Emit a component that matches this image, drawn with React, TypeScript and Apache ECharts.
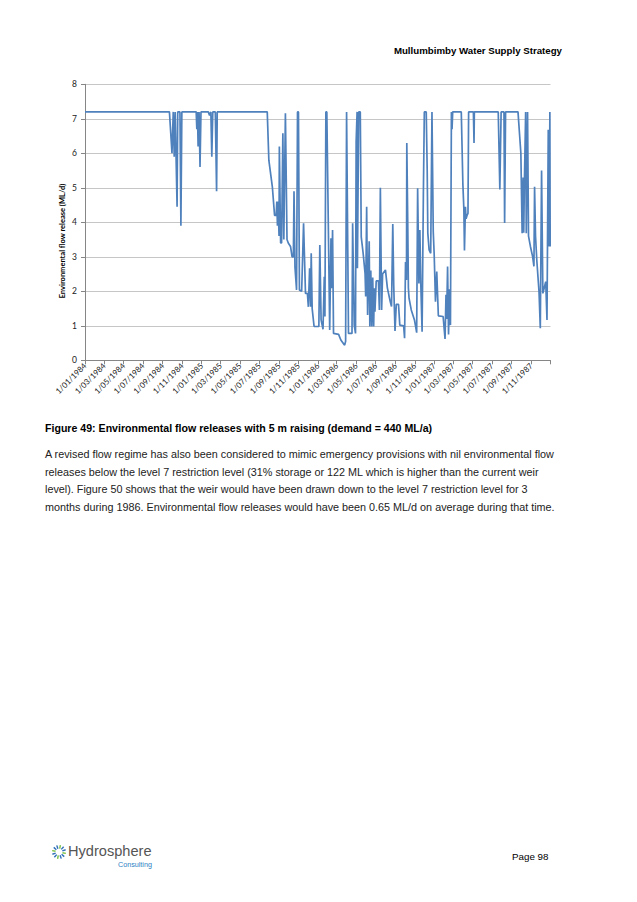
import React, { useEffect, useRef } from "react";
import * as echarts from "echarts";

const tickLabels = [
  "1/01/1984", "1/03/1984", "1/05/1984", "1/07/1984", "1/09/1984", "1/11/1984",
  "1/01/1985", "1/03/1985", "1/05/1985", "1/07/1985", "1/09/1985", "1/11/1985",
  "1/01/1986", "1/03/1986", "1/05/1986", "1/07/1986", "1/09/1986", "1/11/1986",
  "1/01/1987", "1/03/1987", "1/05/1987", "1/07/1987", "1/09/1987", "1/11/1987",
];
const axisStart = "1984-01-01";
const axisEnd = "1988-01-01";

const flowDates = [
  "1984-01-01", "1984-09-22", "1984-09-30", "1984-10-04", "1984-10-07", "1984-10-10", "1984-10-16", "1984-10-18",
  "1984-10-25", "1984-10-28", "1984-10-31", "1984-12-15", "1984-12-17", "1984-12-19", "1984-12-21", "1984-12-24",
  "1984-12-27", "1984-12-30", "1985-01-22", "1985-01-26", "1985-01-30", "1985-02-02", "1985-02-05", "1985-02-13",
  "1985-02-17", "1985-02-19", "1985-07-26", "1985-07-31", "1985-08-11", "1985-08-18", "1985-08-23", "1985-08-25",
  "1985-08-27", "1985-08-29", "1985-09-01", "1985-09-02", "1985-09-06", "1985-09-09", "1985-09-13", "1985-09-16",
  "1985-09-21", "1985-09-26", "1985-09-30", "1985-10-07", "1985-10-12", "1985-10-16", "1985-10-18", "1985-10-21",
  "1985-10-26", "1985-10-29", "1985-11-01", "1985-11-04", "1985-11-11", "1985-11-17", "1985-11-23", "1985-11-29",
  "1985-12-02", "1985-12-06", "1985-12-09", "1985-12-11", "1985-12-14", "1985-12-20", "1986-01-04", "1986-01-07",
  "1986-01-11", "1986-01-17", "1986-01-21", "1986-01-23", "1986-01-26", "1986-01-29", "1986-02-07", "1986-02-11",
  "1986-02-13", "1986-02-16", "1986-02-19", "1986-03-07", "1986-03-14", "1986-03-23", "1986-03-26", "1986-03-29",
  "1986-04-01", "1986-04-03", "1986-04-07", "1986-04-18", "1986-04-20", "1986-04-25", "1986-04-29", "1986-05-01",
  "1986-05-04", "1986-05-05", "1986-05-09", "1986-05-14", "1986-05-17", "1986-05-23", "1986-05-29", "1986-05-31",
  "1986-06-03", "1986-06-06", "1986-06-11", "1986-06-13", "1986-06-16", "1986-06-19", "1986-06-22", "1986-06-25",
  "1986-06-27", "1986-06-29", "1986-07-03", "1986-07-10", "1986-07-13", "1986-07-16", "1986-07-20", "1986-07-23",
  "1986-08-01", "1986-08-07", "1986-08-16", "1986-08-20", "1986-08-24", "1986-08-27", "1986-08-31", "1986-09-04",
  "1986-09-11", "1986-09-15", "1986-09-27", "1986-09-30", "1986-10-03", "1986-10-06", "1986-10-07", "1986-10-10",
  "1986-10-12", "1986-10-14", "1986-10-21", "1986-10-31", "1986-11-07", "1986-11-10", "1986-11-14", "1986-11-17",
  "1986-11-20", "1986-11-24", "1986-11-28", "1986-12-01", "1986-12-07", "1986-12-08", "1986-12-10", "1986-12-12",
  "1986-12-16", "1986-12-21", "1986-12-25", "1986-12-29", "1987-01-01", "1987-01-05", "1987-01-09", "1987-01-14",
  "1987-01-29", "1987-02-04", "1987-02-07", "1987-02-09", "1987-02-12", "1987-02-15", "1987-02-18", "1987-02-21",
  "1987-02-24", "1987-02-26", "1987-02-28", "1987-03-27", "1987-04-01", "1987-04-04", "1987-04-06", "1987-04-09",
  "1987-04-11", "1987-04-14", "1987-04-17", "1987-04-19", "1987-05-04", "1987-05-06", "1987-05-07", "1987-07-21",
  "1987-07-26", "1987-07-30", "1987-08-08", "1987-08-10", "1987-08-13", "1987-09-21", "1987-09-30", "1987-10-04",
  "1987-10-07", "1987-10-09", "1987-10-11", "1987-10-15", "1987-10-17", "1987-10-21", "1987-10-24", "1987-10-30",
  "1987-11-06", "1987-11-10", "1987-11-12", "1987-11-15", "1987-11-19", "1987-11-26", "1987-11-30", "1987-12-04",
  "1987-12-08", "1987-12-12", "1987-12-17", "1987-12-21", "1987-12-25", "1987-12-28", "1987-12-30", "1987-12-31",
];

const flowValues = [
  7.2, 7.2, 6.0, 7.2, 5.9, 7.2, 4.45, 7.2,
  7.2, 3.9, 7.2, 7.2, 6.7, 7.2, 6.2, 7.2,
  5.6, 7.2, 7.2, 7.1, 7.2, 5.9, 7.2, 7.2,
  4.9, 7.2, 7.2, 5.8, 5.03, 4.2, 4.2, 4.6,
  3.9, 4.6, 3.6, 6.2, 3.4, 3.4, 6.58, 3.5,
  7.16, 3.5, 3.4, 3.3, 3.0, 3.0, 4.9, 2.7,
  2.04, 7.2, 7.2, 2.04, 2.0, 3.97, 1.94, 1.94,
  1.55, 2.67, 1.55, 3.1, 1.5, 0.98, 0.98, 3.34,
  1.17, 0.9, 2.42, 1.27, 7.2, 7.2, 0.88, 3.54,
  2.09, 3.78, 0.78, 0.75, 0.59, 0.47, 0.44, 0.55,
  7.2, 7.2, 0.78, 0.78, 3.97, 1.02, 0.78, 6.34,
  7.2, 2.67, 7.2, 7.2, 3.58, 3.1, 2.52, 1.85,
  4.45, 1.31, 3.45, 0.98, 2.6, 0.98, 2.4, 0.98,
  2.09, 1.41, 2.3, 2.3, 1.46, 5.0, 1.46, 2.5,
  2.62, 2.1, 1.7, 1.56, 3.95, 2.15, 0.85, 1.62,
  1.62, 1.02, 1.0, 0.64, 2.85, 2.33, 6.3, 3.95,
  2.1, 1.8, 1.46, 1.17, 0.8, 4.99, 2.23, 3.78,
  2.18, 0.83, 4.8, 7.2, 7.2, 6.63, 5.52, 3.68,
  3.2, 3.1, 7.2, 3.73, 3.05, 1.7, 2.57, 1.29,
  1.27, 0.62, 1.9, 1.2, 2.72, 0.75, 2.06, 1.02,
  7.2, 6.7, 7.2, 7.2, 5.1, 4.4, 3.18, 4.45,
  4.1, 4.2, 4.26, 7.2, 7.2, 6.3, 7.2, 7.2,
  4.95, 7.2, 7.2, 3.98, 7.2, 7.2, 6.0, 3.68,
  5.3, 3.7, 5.1, 7.2, 3.68, 7.2, 3.6, 3.3,
  3.0, 2.72, 5.03, 3.6, 2.9, 1.99, 0.93, 5.5,
  1.94, 2.09, 2.28, 1.17, 6.68, 3.3, 7.2, 3.3,
];

const headerText = "Mullumbimby Water Supply Strategy";
const yAxisTitle = "Environmental flow release (ML/d)";
const captionText = "Figure 49: Environmental flow releases with 5 m raising (demand = 440 ML/a)";
const paragraphLines = [
  "A revised flow regime has also been considered to mimic emergency provisions with nil environmental flow",
  "releases below the level 7 restriction level (31% storage or 122 ML which is higher than the current weir",
  "level). Figure 50 shows that the weir would have been drawn down to the level 7 restriction level for 3",
  "months during 1986. Environmental flow releases would have been 0.65 ML/d on average during that time.",
];
const logoName = "Hydrosphere";
const logoSub = "Consulting";
const pageText = "Page 98";

function isoToTime(s: string): number {
  const [y, m, d] = s.split("-").map(Number);
  return new Date(y, m - 1, d).getTime();
}
function dmyToTime(s: string): number {
  const [d, m, y] = s.split("/").map(Number);
  return new Date(y, m - 1, d).getTime();
}

export default function App() {
  const ref = useRef<HTMLDivElement>(null);
  useEffect(() => {
    if (!ref.current) return;
    const chart = echarts.init(ref.current, null, { renderer: "svg" });
    const tickTimes = tickLabels.map(dmyToTime);
    const labelMap: Record<number, string> = {};
    tickTimes.forEach((t, i) => (labelMap[t] = tickLabels[i]));
    const data = flowDates.map((d, i) => [isoToTime(d), flowValues[i]]);

    const rays: any[] = [];
    const cx = 59, cy = 852;
    for (let i = 0; i < 12; i++) {
      const a = (i * Math.PI * 2) / 12 + 0.2;
      rays.push({
        type: "line",
        shape: {
          x1: cx + Math.cos(a) * 3.5, y1: cy + Math.sin(a) * 3.5,
          x2: cx + Math.cos(a) * 7, y2: cy + Math.sin(a) * 7,
        },
        style: { stroke: i % 3 === 0 ? "#7ac143" : "#2e6fb7", lineWidth: 1.4 },
      });
    }

    const graphic: any[] = [
      {
        type: "text", x: 562, y: 50,
        style: { text: headerText, fontSize: 9.7, fontWeight: "bold", fontFamily: "Liberation Sans", fill: "#000", align: "right", verticalAlign: "middle" },
      },
      {
        type: "text", x: 62, y: 241, rotation: Math.PI / 2,
        style: { text: yAxisTitle, fontSize: 7.5, fontWeight: "bold", fontFamily: "Lato", fill: "#000", align: "center", verticalAlign: "middle" },
      },
      {
        type: "text", x: 45, y: 428,
        style: { text: captionText, fontSize: 10.6, fontWeight: "bold", fontFamily: "Liberation Sans", fill: "#000", align: "left", verticalAlign: "middle" },
      },
      ...paragraphLines.map((t, i) => ({
        type: "text", x: 45, y: 454 + i * 17.5,
        style: { text: t, fontSize: 10.8, fontFamily: "Liberation Sans", fill: "#222", align: "left", verticalAlign: "middle" },
      })),
      ...rays,
      {
        type: "text", x: 68, y: 850.5,
        style: { text: logoName, fontSize: 14.6, lineHeight: 15, fontFamily: "Liberation Sans", fill: "#555", align: "left", verticalAlign: "middle" },
      },
      {
        type: "text", x: 118, y: 864.5,
        style: { text: logoSub, fontSize: 7.2, lineHeight: 8, fontFamily: "Liberation Sans", fill: "#2e7fc4", align: "left", verticalAlign: "middle" },
      },
      {
        type: "text", x: 512, y: 856,
        style: { text: pageText, fontSize: 9.8, fontFamily: "Liberation Sans", fill: "#000", align: "left", verticalAlign: "middle" },
      },
    ];

    chart.setOption({
      animation: false,
      backgroundColor: "#fff",
      grid: { left: 85, top: 84.3, right: 637 - 550.5, bottom: 902 - 360.3, containLabel: false },
      xAxis: {
        type: "value",
        min: isoToTime(axisStart),
        max: isoToTime(axisEnd),
        axisLine: { show: true, lineStyle: { color: "#868686", width: 1 } },
        axisTick: { show: true, length: 4, lineStyle: { color: "#868686" }, customValues: [...tickTimes, isoToTime(axisEnd)] },
        axisLabel: {
          show: true,
          rotate: 45,
          fontSize: 8,
          fontFamily: "Lato",
          color: "#222",
          margin: 4,
          customValues: tickTimes,
          formatter: (v: number) => labelMap[v] ?? "",
        },
        splitLine: { show: false },
      },
      yAxis: {
        type: "value",
        min: 0,
        max: 8,
        interval: 1,
        axisLine: { show: true, lineStyle: { color: "#868686", width: 1 } },
        axisTick: { show: true, length: 4, lineStyle: { color: "#868686" } },
        axisLabel: { fontSize: 8.5, fontFamily: "Lato", color: "#222", margin: 8 },
        splitLine: { show: true, lineStyle: { color: "#c6c6c6", width: 1 } },
      },
      series: [
        {
          type: "line",
          data,
          showSymbol: false,
          symbol: "none",
          lineStyle: { color: "#4F81BD", width: 1.7 },
          itemStyle: { color: "#4F81BD" },
        },
      ],
      graphic,
    });
    return () => chart.dispose();
  }, []);
  return (
    <div
      ref={ref}
      style={{ position: "absolute", left: 0, top: 0, width: 637, height: 902, background: "#fff" }}
    />
  );
}
